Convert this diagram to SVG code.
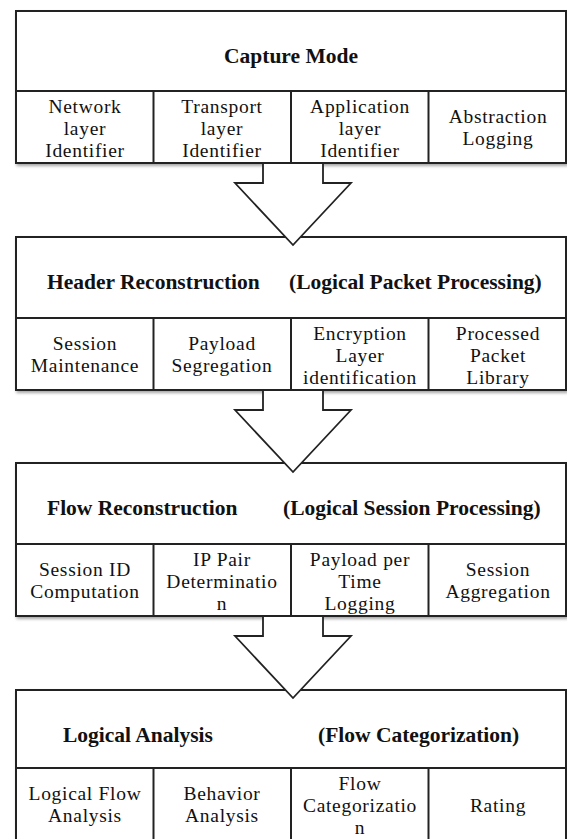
<svg xmlns="http://www.w3.org/2000/svg" width="567" height="839" viewBox="0 0 567 839">
<defs>
<filter id="sh" x="-5%" y="-5%" width="110%" height="115%">
<feDropShadow dx="1.5" dy="2" stdDeviation="1.5" flood-color="#000" flood-opacity="0.35"/>
</filter>
</defs>
<style>
.box{fill:#fff;stroke:#222;stroke-width:2}
.ln{stroke:#222;stroke-width:2;fill:none}
.arw{fill:#fff;stroke:#222;stroke-width:1.8;stroke-linejoin:miter}
text{font-family:"Liberation Serif","Times New Roman",serif;fill:#111}
.h{font-size:21.5px;font-weight:bold}
.b{font-size:19.5px;letter-spacing:0.7px;text-anchor:middle}
.c{text-anchor:middle}
</style>
<rect width="567" height="839" fill="#fff"/>

<g id="block-capture">
<rect class="box" x="16" y="11" width="550" height="152" filter="url(#sh)"/>
<line class="ln" x1="16" y1="91" x2="566" y2="91"/>
<line class="ln" x1="153.5" y1="91" x2="153.5" y2="163"/>
<line class="ln" x1="291" y1="91" x2="291" y2="163"/>
<line class="ln" x1="428.5" y1="91" x2="428.5" y2="163"/>
<g id="capture-title"><text class="h c" x="291" y="63">Capture Mode</text></g>
<g id="network-layer"><text class="b" x="85" y="113">Network</text><text class="b" x="85" y="135">layer</text><text class="b" x="85" y="157">Identifier</text></g>
<g id="transport-layer"><text class="b" x="222" y="113">Transport</text><text class="b" x="222" y="135">layer</text><text class="b" x="222" y="157">Identifier</text></g>
<g id="application-layer"><text class="b" x="360" y="113">Application</text><text class="b" x="360" y="135">layer</text><text class="b" x="360" y="157">Identifier</text></g>
<g id="abstraction-logging"><text class="b" x="498" y="123">Abstraction</text><text class="b" x="498" y="145">Logging</text></g>
</g>

<g id="block-header">
<rect class="box" x="16" y="237" width="550" height="153" filter="url(#sh)"/>
<line class="ln" x1="16" y1="318" x2="566" y2="318"/>
<line class="ln" x1="153.5" y1="318" x2="153.5" y2="390"/>
<line class="ln" x1="291" y1="318" x2="291" y2="390"/>
<line class="ln" x1="428.5" y1="318" x2="428.5" y2="390"/>
<g id="header-title"><text class="h" x="47" y="289">Header Reconstruction</text><text class="h" x="289" y="289">(Logical Packet Processing)</text></g>
<g id="session-maintenance"><text class="b" x="85" y="350">Session</text><text class="b" x="85" y="372">Maintenance</text></g>
<g id="payload-segregation"><text class="b" x="222" y="350">Payload</text><text class="b" x="222" y="372">Segregation</text></g>
<g id="encryption-layer"><text class="b" x="360" y="340">Encryption</text><text class="b" x="360" y="362">Layer</text><text class="b" x="360" y="384">identification</text></g>
<g id="processed-packet"><text class="b" x="498" y="340">Processed</text><text class="b" x="498" y="362">Packet</text><text class="b" x="498" y="384">Library</text></g>
</g>

<g id="block-flow">
<rect class="box" x="16" y="463" width="550" height="153" filter="url(#sh)"/>
<line class="ln" x1="16" y1="544" x2="566" y2="544"/>
<line class="ln" x1="153.5" y1="544" x2="153.5" y2="616"/>
<line class="ln" x1="291" y1="544" x2="291" y2="616"/>
<line class="ln" x1="428.5" y1="544" x2="428.5" y2="616"/>
<g id="flow-title"><text class="h" x="47" y="515">Flow Reconstruction</text><text class="h" x="283" y="515">(Logical Session Processing)</text></g>
<g id="session-id"><text class="b" x="85" y="576">Session ID</text><text class="b" x="85" y="598">Computation</text></g>
<g id="ip-pair"><text class="b" x="222" y="566">IP Pair</text><text class="b" x="222" y="588">Determinatio</text><text class="b" x="222" y="610">n</text></g>
<g id="payload-time"><text class="b" x="360" y="566">Payload per</text><text class="b" x="360" y="588">Time</text><text class="b" x="360" y="610">Logging</text></g>
<g id="session-aggregation"><text class="b" x="498" y="576">Session</text><text class="b" x="498" y="598">Aggregation</text></g>
</g>

<g id="block-logical">
<rect class="box" x="16" y="690" width="550" height="160" filter="url(#sh)"/>
<line class="ln" x1="16" y1="768" x2="566" y2="768"/>
<line class="ln" x1="153.5" y1="768" x2="153.5" y2="850"/>
<line class="ln" x1="291" y1="768" x2="291" y2="850"/>
<line class="ln" x1="428.5" y1="768" x2="428.5" y2="850"/>
<g id="logical-title"><text class="h" x="63" y="742">Logical Analysis</text><text class="h" x="318" y="742">(Flow Categorization)</text></g>
<g id="logical-flow"><text class="b" x="85" y="800">Logical Flow</text><text class="b" x="85" y="822">Analysis</text></g>
<g id="behavior-analysis"><text class="b" x="222" y="800">Behavior</text><text class="b" x="222" y="822">Analysis</text></g>
<g id="flow-categorization"><text class="b" x="360" y="790">Flow</text><text class="b" x="360" y="812">Categorizatio</text><text class="b" x="360" y="834">n</text></g>
<g id="rating"><text class="b" x="498" y="812">Rating</text></g>
</g>

<g id="connectors">
<path class="arw" d="M263,164 V183 H235 L293,245 L351,183 H323 V164"/>
<path class="arw" d="M263,391 V410 H235 L293,472 L351,410 H323 V391"/>
<path class="arw" d="M263,617 V636 H235 L293,698 L351,636 H323 V617"/>
</g>
</svg>
